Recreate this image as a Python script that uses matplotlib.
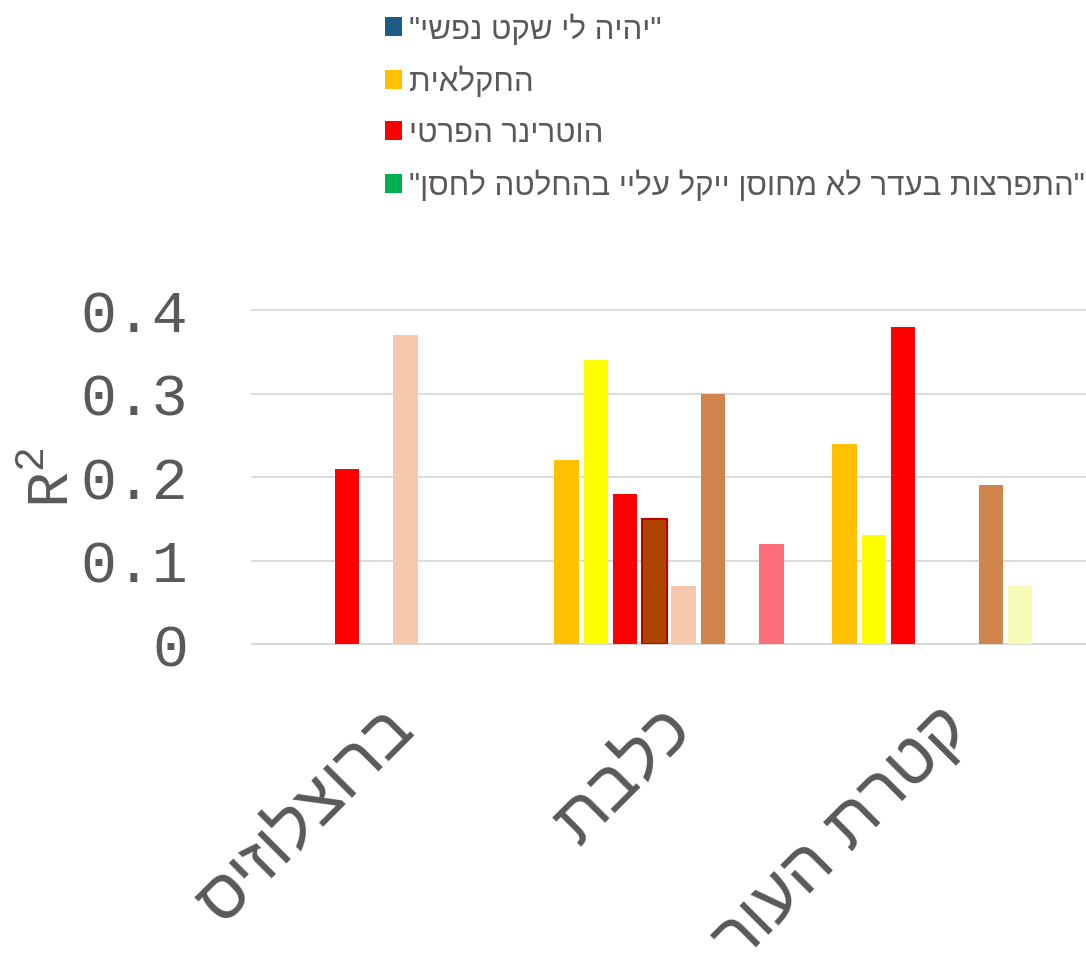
import matplotlib.pyplot as plt
import matplotlib.transforms as mtransforms
import numpy as np
from matplotlib.patches import Patch

# categories (Hebrew, logical order)
categories = ['ברוצלוזיס', 'כלבת', 'קטרת העור']

# R^2 values for the 8 series, one value per category (None = no bar)
s_orange = [None, 0.22, 0.24]
s_yellow = [None, 0.34, 0.13]
s_red = [0.21, 0.18, 0.38]
s_brown = [None, 0.15, None]
s_peach = [0.37, 0.07, None]
s_tan = [None, 0.30, 0.19]
s_lightyellow = [None, None, 0.07]
s_pink = [None, 0.12, None]

series = [s_orange, s_yellow, s_red, s_brown, s_peach, s_tan, s_lightyellow, s_pink]
colors = ['#FFC000', '#FFFF00', '#FF0000', '#AF4600', '#F8C8AD', '#CF854B', '#F7FBB8', '#FF6E7B']
edges = ['none', 'none', 'none', '#C00000', 'none', 'none', 'none', 'none']

# legend entries as shown in the chart
legend_labels = ['"יהיה לי שקט נפשי"', 'החקלאית', 'הוטרינר הפרטי',
                 '"התפרצות בעדר לא מחוסן ייקל עליי בהחלטה לחסן"']
legend_colors = ['#1F5C86', '#FFC000', '#FF0000', '#00B050']


def rtl(s):
    # matplotlib has no bidi support, so reverse Hebrew for display
    return s[::-1]


plt.rcParams['mathtext.fontset'] = 'custom'
plt.rcParams['mathtext.rm'] = 'Liberation Mono'

fig = plt.figure(figsize=(10.86, 9.54), dpi=100)
ax = fig.add_axes([252 / 1086, 1 - 645 / 954, 834 / 1086, 334 / 954])

x = np.arange(len(categories))
slot = 0.1054
bar_w = 0.088
for i, vals in enumerate(series):
    for j, v in enumerate(vals):
        if v is None:
            continue
        ax.bar(x[j] + (i - 3.5) * slot, v, width=bar_w, color=colors[i],
               edgecolor=edges[i], linewidth=1.5, zorder=3)

ax.set_xlim(-0.5, 2.5)
ax.set_ylim(0, 0.4)
ax.set_yticks([0, 0.1, 0.2, 0.3, 0.4])
ax.set_yticklabels(['0', '0.1', '0.2', '0.3', '0.4'])
ax.yaxis.grid(True, color='#D9D9D9', linewidth=1.3, zorder=0)
ax.set_axisbelow(True)
for sp in ['top', 'right', 'left']:
    ax.spines[sp].set_visible(False)
ax.spines['bottom'].set_color('#D9D9D9')
ax.spines['bottom'].set_linewidth(1.3)
for gl in ax.yaxis.get_gridlines():
    gl.set_clip_on(False)

ax.tick_params(axis='y', length=0, pad=46, labelsize=43, labelcolor='#595959')
for lbl in ax.get_yticklabels():
    lbl.set_fontfamily('Liberation Mono')

ax.set_xticks(x)
ax.set_xticklabels([rtl(c) for c in categories], rotation=45, ha='right',
                   rotation_mode='anchor', fontsize=50, color='#595959',
                   family='Liberation Sans')
ax.tick_params(axis='x', length=0, pad=37)
shift = mtransforms.ScaledTranslation(-0.10, 0, fig.dpi_scale_trans)
for lbl in ax.get_xticklabels():
    lbl.set_transform(lbl.get_transform() + shift)

ax.set_ylabel('R$^2$', fontsize=43, color='#595959', family='Liberation Mono')
ax.yaxis.set_label_coords(-0.205, 0.5)

handles = [Patch(facecolor=c, edgecolor='none') for c in legend_colors]
fig.legend(handles, [rtl(t) for t in legend_labels], loc='upper left',
           bbox_to_anchor=(357 / 1086, 1 + 14 / 954), frameon=False,
           prop={'family': 'Liberation Sans', 'size': 22.5},
           labelcolor='#595959', handlelength=0.55, handleheight=0.55,
           handletextpad=0.2, labelspacing=0.68)

fig.savefig('out.png', dpi=100)
